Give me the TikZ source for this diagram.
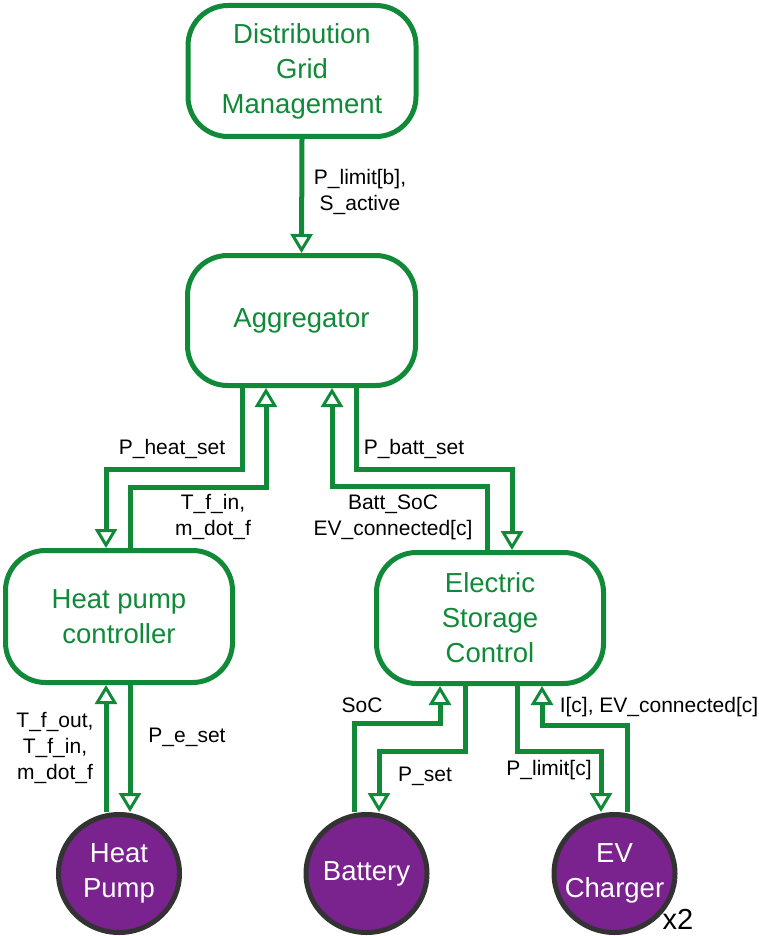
\documentclass[tikz,border=0pt]{standalone}
\usepackage{fontspec}
\setmainfont{Liberation Sans}
\usetikzlibrary{arrows.meta,shapes.geometric}
\definecolor{boxgreen}{RGB}{16,138,56}
\definecolor{devpurple}{RGB}{122,34,142}
\definecolor{devborder}{RGB}{51,51,51}
\begin{document}
\begin{tikzpicture}[x=1pt,y=-1pt,
  ctrl/.style={draw=boxgreen, line width=5pt, rounded corners=40pt, fill=white,
    text=boxgreen, align=center, font=\fontsize{27.5}{35}\selectfont, inner sep=0pt},
  dev/.style={ellipse, draw=devborder, line width=5pt, fill=devpurple, inner sep=0pt,
    minimum width=121pt, minimum height=118pt},
  devtext/.style={text=white, align=center, font=\fontsize{27.5}{35}\selectfont, inner sep=0pt},
  lbl/.style={text=black, align=center, font=\fontsize{21}{26}\selectfont, inner sep=0pt},
  arr/.style={draw=boxgreen, line width=5pt,
    -{Triangle[open, fill=white, width=22pt, length=19pt, line width=3pt]}}
]
\useasboundingbox (0,0) rectangle (758,936);
% controllers
\node[ctrl, minimum width=228pt, minimum height=131pt] (dgm) at (302,71) {Distribution\\Grid\\Management};
\node[ctrl, minimum width=228pt, minimum height=130pt] (agg) at (301.5,320.5) {Aggregator};
\node[ctrl, minimum width=227pt, minimum height=132pt] (hpc) at (119,616.5) {Heat pump\\controller};
\node[ctrl, minimum width=227pt, minimum height=131pt] (esc) at (490,618) {Electric\\Storage\\Control};
% devices (shapes)
\node[dev] (hp) at (119,873.5) {};
\node[dev] (bat) at (366.5,873.5) {};
\node[dev] (ev) at (614.5,873.5) {};
% column coordinates
\coordinate (c1) at (242,0);
\coordinate (c2) at (106,0);
\coordinate (c3) at (130,0);
\coordinate (c4) at (266,0);
\coordinate (c5) at (487,0);
\coordinate (c6) at (332,0);
\coordinate (c7) at (356,0);
\coordinate (c8) at (512,0);
\coordinate (d1) at (440,0);
\coordinate (d2) at (354,0);
\coordinate (d3) at (465,0);
\coordinate (d4) at (379,0);
\coordinate (d5) at (517,0);
\coordinate (d6) at (601,0);
\coordinate (d7) at (627,0);
\coordinate (d8) at (542,0);
% connectors
\draw[arr] (dgm.south) -- (agg.north);
\draw[arr] (agg.south -| c1) -- (242,469) -- (106,469) -- (hpc.north -| c2);
\draw[arr] (hpc.north -| c3) -- (130,487) -- (266,487) -- (agg.south -| c4);
\draw[arr] (esc.north -| c5) -- (487,486) -- (332,486) -- (agg.south -| c6);
\draw[arr] (agg.south -| c7) -- (356,469) -- (512,469) -- (esc.north -| c8);
\draw[arr] (hp.north -| c2) -- (hpc.south -| c2);
\draw[arr] (hpc.south -| c3) -- (hp.north -| c3);
\draw[arr] (bat.north -| d2) -- (354,723) -- (440,723) -- (esc.south -| d1);
\draw[arr] (esc.south -| d3) -- (465,751) -- (379,751) -- (bat.north -| d4);
\draw[arr] (esc.south -| d5) -- (517,751) -- (601,751) -- (ev.north -| d6);
\draw[arr] (ev.north -| d7) -- (627,725) -- (542,725) -- (esc.south -| d8);
% device texts
\node[devtext] (hpt) at (hp) {Heat\\Pump};
\node[devtext] (batt) at (bat) {Battery};
\node[devtext] (evt) at (ev) {EV\\Charger};
\node[font=\fontsize{29}{29}\selectfont, inner sep=0pt] (x2) at (678,919) {x2};
% labels
\node[lbl] (l1) at (360,192) {P\_limit[b],\\S\_active};
\node[lbl] (l2) at (172,449) {P\_heat\_set};
\node[lbl] (l3) at (213,517) {T\_f\_in,\\m\_dot\_f};
\node[lbl] (l4) at (393,517) {Batt\_SoC\\EV\_connected[c]};
\node[lbl] (l5) at (414,449) {P\_batt\_set};
\node[lbl] (l6) at (55,748) {T\_f\_out,\\T\_f\_in,\\m\_dot\_f};
\node[lbl] (l7) at (187,737) {P\_e\_set};
\node[lbl] (l8) at (362,705) {SoC};
\node[lbl] (l9) at (425,776) {P\_set};
\node[lbl] (l10) at (549,770) {P\_limit[c]};
\node[lbl] (l11) at (659,707) {I[c], EV\_connected[c]};
\end{tikzpicture}
\end{document}
